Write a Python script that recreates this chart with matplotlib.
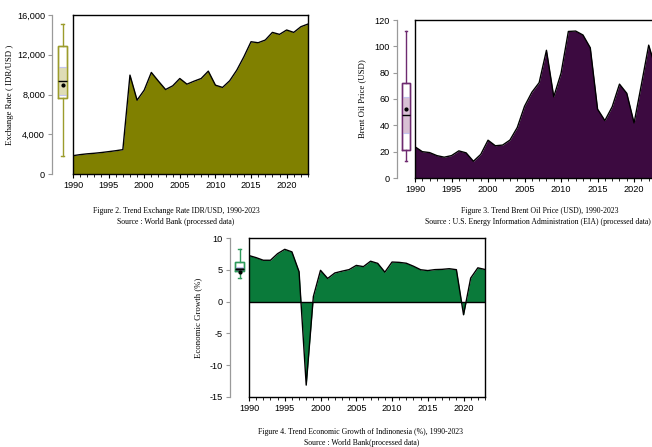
import numpy as np
import matplotlib
matplotlib.use("Agg")
import matplotlib.pyplot as plt
from matplotlib import cbook
from matplotlib.ticker import FuncFormatter, MultipleLocator

years = list(range(1990, 2024))

exchange_rate = [1843, 1950, 2030, 2087, 2161, 2249, 2342, 2450, 9950, 7430,
                 8440, 10220, 9340, 8500, 8870, 9610, 9040, 9340, 9610, 10350,
                 8940, 8710, 9380, 10450, 11800, 13310, 13210, 13480, 14250, 14050,
                 14490, 14250, 14820, 15090]

brent_oil = [23.7, 20.0, 19.3, 17.0, 15.8, 17.0, 20.6, 19.1, 12.7, 17.9,
             28.7, 24.5, 25.0, 28.8, 38.3, 54.5, 65.1, 72.4, 97.0, 61.7,
             79.6, 111.3, 111.6, 108.6, 98.9, 52.3, 43.6, 54.1, 71.3, 64.3,
             41.8, 70.9, 100.9, 82.5]

gdp_growth = [7.24, 6.91, 6.50, 6.50, 7.54, 8.22, 7.82, 4.70, -13.13, 0.79,
              4.92, 3.64, 4.50, 4.78, 5.03, 5.69, 5.50, 6.35, 6.01, 4.63,
              6.22, 6.17, 6.03, 5.56, 5.01, 4.88, 5.03, 5.07, 5.17, 5.02,
              -2.07, 3.70, 5.31, 5.05]

y_labels = ["Exchange Rate ( IDR/USD )", "Brent Oil Price (USD)", "Economic Growth (%)"]
captions = [
    ("Figure 2. Trend Exchange Rate IDR/USD, 1990-2023", "Source : World Bank (processed data)"),
    ("Figure 3. Trend Brent Oil Price (USD), 1990-2023",
     "Source : U.S. Energy Information Administration (EIA) (processed data)"),
    ("Figure 4. Trend Economic Growth of Indinonesia (%), 1990-2023", "Source : World Bank(processed data)"),
]

W, H = 652, 447
fig = plt.figure(figsize=(W / 100, H / 100), dpi=100)

SANS = ["Liberation Sans", "DejaVu Sans"]
SERIF = ["Liberation Serif", "DejaVu Serif"]
TICK_FS = 6.6
LAB_FS = 6.3
CAP_FS = 5.6


def px_rect(l, t, r, b):
    return [l / W, 1 - b / H, (r - l) / W, (b - t) / H]


def panel(data, main_px, box_px, ylim, ystep, fill_col, box_col, band_col, ylabel, ylabel_x,
          fmt=None, zero_line=False, whis=(0, 100)):
    l, t, r, b = main_px
    ax = fig.add_axes(px_rect(l, t, r, b))
    bx = fig.add_axes(px_rect(box_px, t, l, b))
    x = np.array(years)
    y = np.array(data, dtype=float)
    ax.fill_between(x, y, 0, color=fill_col, lw=0, zorder=1)
    ax.plot(x, y, color="black", lw=1.0, zorder=3)
    if zero_line:
        ax.axhline(0, color="black", lw=1.0, zorder=3)
    ax.set_xlim(1990, 2023)
    ax.set_ylim(*ylim)
    ax.set_yticks([])
    ax.xaxis.set_major_locator(MultipleLocator(5))
    ax.xaxis.set_minor_locator(MultipleLocator(1))
    ax.tick_params(axis="x", which="major", length=3, width=0.8, direction="out", pad=2,
                   labelsize=TICK_FS)
    ax.tick_params(axis="x", which="minor", length=2, width=0.6, direction="out")
    for lab in ax.get_xticklabels():
        lab.set_family(SANS)
    for s in ax.spines.values():
        s.set_linewidth(1.0)
        s.set_color("black")

    # box axes
    stats = cbook.boxplot_stats(y, whis=whis)[0]
    bw = 0.9
    bx.bxp([stats], positions=[1], widths=bw, showfliers=False, patch_artist=True,
           showmeans=False,
           boxprops=dict(facecolor="white", edgecolor=box_col, lw=1.0),
           whiskerprops=dict(color=box_col, lw=1.0),
           capprops=dict(color=box_col, lw=1.0),
           medianprops=dict(color="black", lw=1.0, zorder=5),
           capwidths=0.3)
    x0, x1 = 1 - bw / 2, 1 + bw / 2
    lo, hi = max(stats["cilo"], stats["q1"]), min(stats["cihi"], stats["q3"])
    bx.fill_between([x0, x1], lo, hi, color=band_col, lw=0, zorder=3)
    bx.plot([x0, x1], [lo, lo], color="#c4c4f0", lw=0.8, zorder=4)
    bx.plot([x0, x1], [hi, hi], color="#c4c4f0", lw=0.8, zorder=4)
    bx.plot([x0, x1, x1, x0, x0], [stats["q1"], stats["q1"], stats["q3"], stats["q3"], stats["q1"]],
            color=box_col, lw=1.0, zorder=4)
    bx.plot([1], [np.mean(y)], "o", color="black", ms=2, zorder=6)

    bx.set_ylim(*ylim)
    bx.set_xlim(0, 2)
    bx.set_xticks([])
    for k in ["top", "right", "bottom"]:
        bx.spines[k].set_visible(False)
    bx.spines["left"].set_color("#9a9a9a")
    bx.spines["left"].set_linewidth(0.9)
    bx.yaxis.set_major_locator(MultipleLocator(ystep))
    bx.tick_params(axis="y", length=3, width=0.8, color="#9a9a9a", labelsize=TICK_FS, pad=2)
    if fmt:
        bx.yaxis.set_major_formatter(FuncFormatter(fmt))
    for lab in bx.get_yticklabels():
        lab.set_family(SANS)
    bx.patch.set_alpha(0)

    fig.text(ylabel_x / W, 1 - (t + b) / 2 / H, ylabel, rotation=90, ha="center", va="center",
             family=SERIF, fontsize=LAB_FS)
    return ax, bx


comma = lambda v, p: f"{int(v):,}"

panel(exchange_rate, (73, 15, 308, 174), 52, (0, 16000), 4000, "#808000", "#9c9c2c",
      "#dedcb6", y_labels[0], 10, fmt=comma)
panel(brent_oil, (415, 20, 656, 178), 397, (0, 120), 20, "#3c0a40", "#6e2a70",
      "#d8c0d4", y_labels[1], 362, fmt=lambda v, p: f"{int(v)}")
panel(gdp_growth, (249, 238, 485, 397), 230, (-15, 10), 5, "#0a7a3a", "#2f9a5c",
      "#4e5060", y_labels[2], 198, fmt=lambda v, p: f"{int(v)}", zero_line=True, whis=1.5)

fig.text(176 / W, 1 - 211 / H, captions[0][0], ha="center", va="center", family=SERIF, fontsize=CAP_FS)
fig.text(176 / W, 1 - 222 / H, captions[0][1], ha="center", va="center", family=SERIF, fontsize=CAP_FS)
fig.text(540 / W, 1 - 211 / H, captions[1][0], ha="center", va="center", family=SERIF, fontsize=CAP_FS)
fig.text(425 / W, 1 - 222 / H, captions[1][1], ha="left", va="center", family=SERIF, fontsize=CAP_FS)
fig.text(361 / W, 1 - 432 / H, captions[2][0], ha="center", va="center", family=SERIF, fontsize=CAP_FS)
fig.text(362 / W, 1 - 443 / H, captions[2][1], ha="center", va="center", family=SERIF, fontsize=CAP_FS)

fig.savefig("out.png", dpi=100)
